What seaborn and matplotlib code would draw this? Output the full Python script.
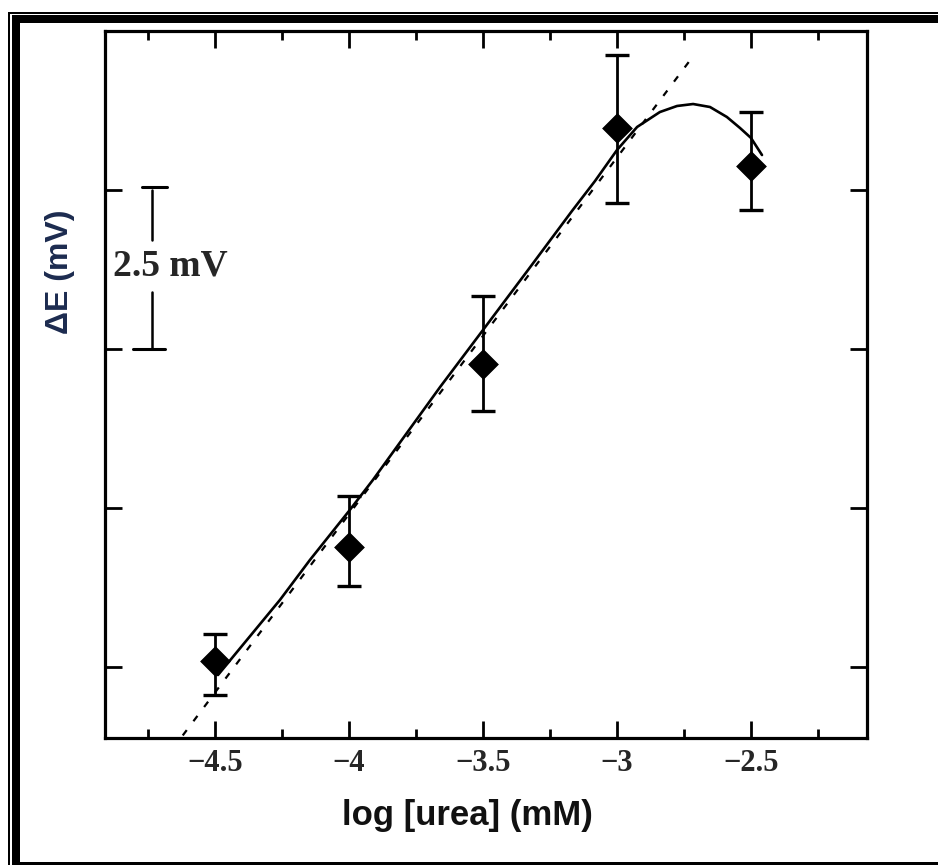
import numpy as np
import pandas as pd
import matplotlib
matplotlib.use("Agg")
import matplotlib.pyplot as plt
from matplotlib.patches import Rectangle
import seaborn as sns

# ---- data -------------------------------------------------------------
log_urea = [-4.5, -4.0, -3.5, -3.0, -2.5]
delta_e = [2.59, 4.39, 7.26, 10.98, 10.38]
err_low = [0.53, 0.61, 0.74, 1.19, 0.69]
err_high = [0.43, 0.80, 1.07, 1.15, 0.85]

# smooth response curve (solid line)
curve_x = [-4.489, -4.258, -4.146, -4.000, -3.911, -3.660, -3.500, -3.332,
           -3.168, -3.082, -3.000, -2.925, -2.840, -2.776, -2.716, -2.653,
           -2.590, -2.541, -2.500, -2.459]
curve_y = [2.374, 3.553, 4.182, 4.953, 5.440, 6.903, 7.799, 8.742,
           9.670, 10.142, 10.629, 10.991, 11.226, 11.321, 11.352, 11.305,
           11.148, 10.975, 10.818, 10.550]

# linear range used for the dashed regression line
linear_n = 4
fit_x_range = [-4.70, -2.728]

x_ticks = [-4.5, -4.0, -3.5, -3.0, -2.5]
x_minor_ticks = [-4.75, -4.25, -3.75, -3.25, -2.75, -2.25]
x_tick_labels = ["\u22124.5", "\u22124", "\u22123.5", "\u22123", "\u22122.5"]
y_ticks = [2.5, 5.0, 7.5, 10.0, 12.5]

# ---- style ------------------------------------------------------------
sns.set_theme(style="ticks")
plt.rcParams["font.family"] = ["Liberation Sans", "DejaVu Sans"]

W, H = 938, 865
fig = plt.figure(figsize=(W / 100, H / 100), dpi=100)
fig.patch.set_facecolor("white")


def px_box(x0, y0, x1, y1):
    """Figure-fraction box from pixel corners (top-left origin)."""
    return (x0 / W, 1 - y1 / H, (x1 - x0) / W, (y1 - y0) / H)


ax = fig.add_axes(px_box(105, 31, 867, 738))
ax.set_facecolor("white")

# ---- marks ------------------------------------------------------------
df = pd.DataFrame({"x": log_urea, "y": delta_e})
ax.errorbar(log_urea, delta_e, yerr=[err_low, err_high], fmt="none",
            ecolor="black", elinewidth=2.0, capsize=8.5, capthick=2.4, zorder=3)
sns.scatterplot(data=df, x="x", y="y", marker="D", s=230, color="black",
                edgecolor="black", linewidth=0.5, ax=ax, zorder=4)

coef = np.polyfit(log_urea[:linear_n], delta_e[:linear_n], 1)
fx = np.array(fit_x_range)
sns.lineplot(x=fx, y=np.polyval(coef, fx), color="black", lw=1.6,
             linestyle=(0, (3, 5)), ax=ax, zorder=2)

curve = pd.DataFrame({"x": curve_x, "y": curve_y})
sns.lineplot(data=curve, x="x", y="y", sort=False, estimator=None,
             color="black", lw=1.9, ax=ax, zorder=2)
for ln in ax.lines:
    ln.set_solid_joinstyle("round")

# scale bar
bar_x = -4.735
ax.plot([bar_x, bar_x], [10.0, 9.21], color="black", lw=1.8)
ax.plot([bar_x, bar_x], [8.40, 7.5], color="black", lw=1.8)
ax.plot([-4.772, -4.679], [10.05, 10.05], color="black", lw=2.2)
ax.plot([-4.805, -4.685], [7.5, 7.5], color="black", lw=2.2)
ax.text(-4.881, 8.80, "2.5 mV", fontfamily="Liberation Serif",
        fontweight="bold", fontsize=27, ha="left", va="center")

# ---- axes -------------------------------------------------------------
ax.set_xlim(-4.9104, -2.0672)
ax.set_ylim(1.384, 12.5)
ax.set_xticks(x_ticks)
ax.set_xticklabels(x_tick_labels, fontfamily="Liberation Serif",
                   fontweight="bold", fontsize=22)
ax.set_xticks(x_minor_ticks, minor=True)
ax.set_yticks(y_ticks)
ax.set_yticklabels([])
ax.tick_params(which="both", direction="in", top=True, right=True,
               color="black", width=2.0)
ax.tick_params(which="major", length=12.5)
ax.tick_params(which="minor", length=6.5)
ax.tick_params(axis="x", pad=8)
for s in ax.spines.values():
    s.set_linewidth(2.3)
    s.set_color("black")

ax.set_xlabel("")
ax.set_ylabel("")
fig.text(467 / W, 1 - 815 / H, "log [urea] (mM)", fontsize=25,
         fontweight="bold", color="#111111", ha="center", va="center")
fig.text(60 / W, 1 - 272 / H, "\u0394E (mV)", fontsize=23,
         fontweight="bold", color="#1c2b4f", ha="center", va="center",
         rotation=90)

# ---- page frame -------------------------------------------------------
for (x0, y0, x1, y1) in [(8, 12, 10, H), (8, 12, W, 14),
                         (12, 15, 20, H), (12, 15, W, 23), (12, 862, W, H)]:
    fig.add_artist(Rectangle(px_box(x0, y0, x1, y1)[:2],
                             (x1 - x0) / W, (y1 - y0) / H,
                             transform=fig.transFigure, facecolor="black",
                             edgecolor="none"))

fig.savefig("out.png", dpi=100, facecolor="white")
